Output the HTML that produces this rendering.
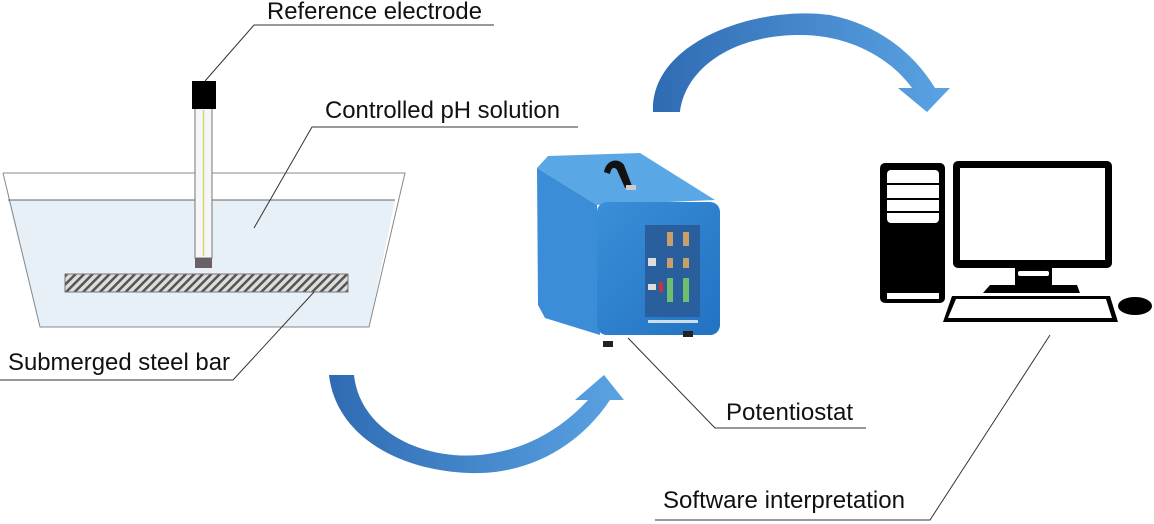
<!DOCTYPE html>
<html><head><meta charset="utf-8"><style>
html,body{margin:0;padding:0;background:#fff;}
svg{display:block;}
text{font-family:"Liberation Sans",Arial,sans-serif;font-size:24px;fill:#111;}
</style></head><body>
<svg width="1154" height="524" viewBox="0 0 1154 524" xmlns="http://www.w3.org/2000/svg">
<defs>
<pattern id="hatch" width="6" height="6" patternUnits="userSpaceOnUse" patternTransform="rotate(45)">
<rect width="6" height="6" fill="#ddd"/><rect width="2.5" height="6" fill="#555"/></pattern>
<linearGradient id="arr" x1="0" y1="0" x2="1" y2="0"><stop offset="0" stop-color="#2f6bb3"/><stop offset="1" stop-color="#5aa3e3"/></linearGradient>
<linearGradient id="front" x1="0" y1="0" x2="1" y2="1"><stop offset="0" stop-color="#3a8fd8"/><stop offset="1" stop-color="#2272c2"/></linearGradient>
</defs>
<!-- container -->
<polygon points="8,200 395,200 369,327 40,327" fill="#e7eff7"/>
<polyline points="3,173 405,173 369,327 40,327 3,173" fill="none" stroke="#888" stroke-width="1"/>
<line x1="8" y1="200" x2="395" y2="200" stroke="#666" stroke-width="1"/>
<rect x="65" y="274" width="283" height="18" fill="url(#hatch)" stroke="#777" stroke-width="1"/>
<!-- electrode -->
<rect x="195" y="108" width="17" height="150" fill="#f4f6f8" stroke="#777" stroke-width="1"/>
<line x1="203.5" y1="110" x2="203.5" y2="256" stroke="#d8d870" stroke-width="1.5"/>
<rect x="195" y="258" width="17" height="10" fill="#6a6066"/>
<rect x="192" y="81" width="24" height="28" fill="#000"/>
<!-- labels & leaders -->
<g stroke="#333" stroke-width="1" fill="none">
<polyline points="205,81 254,25 494,25"/>
<polyline points="254,228 312,127 578,127"/>
<polyline points="314,292 233,380 0,380"/>
<polyline points="628,338 715,428 866,428"/>
<polyline points="1050,335 930,520 655,520"/>
</g>
<text x="267" y="19" textLength="215" lengthAdjust="spacingAndGlyphs">Reference electrode</text>
<text x="325" y="118" textLength="235" lengthAdjust="spacingAndGlyphs">Controlled pH solution</text>
<text x="8" y="370" textLength="222" lengthAdjust="spacingAndGlyphs">Submerged steel bar</text>
<text x="726" y="420" textLength="127" lengthAdjust="spacingAndGlyphs">Potentiostat</text>
<text x="663" y="508" textLength="242" lengthAdjust="spacingAndGlyphs">Software interpretation</text>
<!-- arrows -->
<path d="M653,112 C650,40 760,5 830,15 C880,25 915,55 935,88 L950,88 L927,112 L898,88 L912,88 C890,58 850,35 800,35 C730,35 685,70 680,112 Z" fill="url(#arr)"/>
<path d="M329,375 L354,375 C360,430 420,460 480,455 C530,450 565,425 588,400 L575,400 L604,375 L624,400 L610,400 C580,445 530,475 470,473 C390,470 335,430 329,375 Z" fill="url(#arr)"/>
<!-- potentiostat -->
<polygon points="537,168 548,156 640,153 715,200 597,205" fill="#5aa7e6"/>
<polygon points="537,168 597,205 600,335 545,318 538,305" fill="#3a8dd6"/>
<rect x="597" y="202" width="123" height="133" rx="10" fill="url(#front)"/>
<rect x="645" y="225" width="55" height="92" fill="#2a5f9e"/>
<g fill="#c9a06a"><rect x="667" y="232" width="6" height="14"/><rect x="683" y="232" width="6" height="14"/><rect x="667" y="258" width="6" height="10"/><rect x="683" y="258" width="6" height="10"/></g>
<g fill="#6fbf6f"><rect x="667" y="278" width="6" height="24"/><rect x="683" y="278" width="6" height="24"/></g>
<rect x="648" y="258" width="8" height="8" fill="#ddd"/><rect x="648" y="284" width="8" height="6" fill="#ddd"/><rect x="659" y="282" width="4" height="10" fill="#c33"/>
<rect x="648" y="320" width="50" height="3" fill="#cde"/>
<path d="M604,172 C606,160 618,157 624,165 L632,186 L625,188 L617,170 C614,166 611,168 610,174 Z" fill="#111"/>
<rect x="626" y="185" width="10" height="5" fill="#ccc"/>
<rect x="603" y="341" width="10" height="6" fill="#222"/><rect x="683" y="331" width="10" height="6" fill="#222"/>
<!-- computer -->
<rect x="880" y="163" width="65" height="140" rx="5" fill="#000"/>
<rect x="887" y="170" width="52" height="53" rx="4" fill="#fff"/>
<g stroke="#000" stroke-width="2"><line x1="887" y1="184" x2="939" y2="184"/><line x1="887" y1="199" x2="939" y2="199"/><line x1="887" y1="212" x2="939" y2="212"/></g>
<rect x="887" y="293" width="52" height="6" fill="#fff"/>
<rect x="953" y="161" width="159" height="107" rx="5" fill="#000"/>
<rect x="960" y="168" width="145" height="92" fill="#fff"/>
<rect x="1015" y="266" width="37" height="20" fill="#000"/>
<rect x="1018" y="271" width="31" height="5" rx="2" fill="#fff"/>
<polygon points="990,285 1077,285 1080,293 983,293" fill="#000"/>
<polygon points="952,296 1110,296 1118,322 943,322" fill="#000"/>
<polygon points="956,299 1106,299 1112,318 948,318" fill="#fff"/>
<ellipse cx="1135" cy="306" rx="17" ry="9" fill="#000"/>
</svg>
</body></html>
